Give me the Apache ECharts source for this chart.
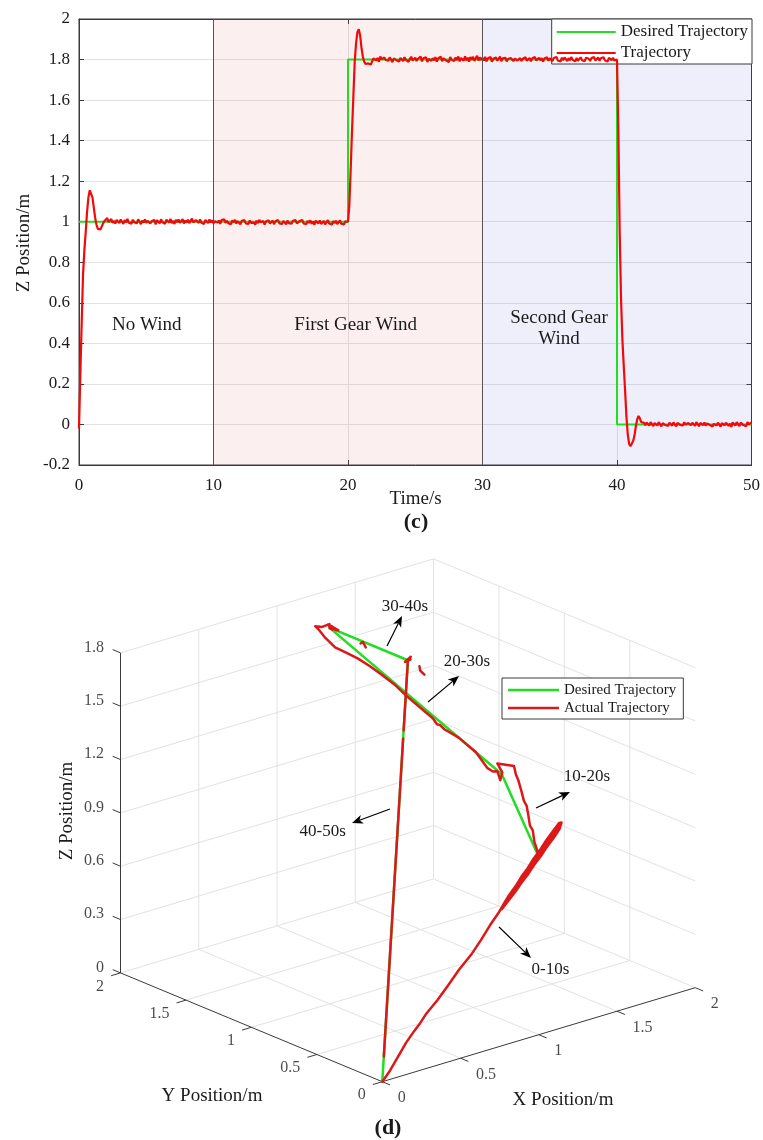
<!DOCTYPE html>
<html>
<head>
<meta charset="utf-8">
<script src="https://cdn.jsdelivr.net/npm/echarts@6/dist/echarts.min.js"></script>
<style>
html,body{margin:0;padding:0;background:#fff}
#main{width:763px;height:1140px}
</style>
</head>
<body>
<div id="main"></div>
<script>
// ===================== Panel (c): Z position vs time =====================
const SAMPLE_PERIOD = 0.1; // seconds between samples of the measured altitude

// measured altitude (m), one row per second
const zActual = [
  -0.020, 0.250, 0.500, 0.740, 0.860, 0.950, 1.050, 1.120, 1.155, 1.150,
  1.120, 1.070, 1.020, 0.985, 0.965, 0.958, 0.962, 0.978, 0.993, 1.004,
  1.012, 1.018, 0.998, 1.006, 1.013, 0.994, 1.004, 0.991, 1.009, 1.002,
  0.993, 1.011, 1.004, 0.989, 1.008, 0.997, 1.014, 0.995, 1.003, 0.990,
  1.010, 0.998, 1.007, 0.992, 1.012, 1.001, 0.988, 1.006, 0.996, 1.011,
  0.994, 1.005, 1.013, 0.991, 1.002, 0.996, 1.009, 0.987, 1.008, 1.000,
  0.992, 1.012, 0.997, 1.006, 0.990, 1.010, 1.003, 0.995, 1.014, 0.993,
  1.004, 0.989, 1.009, 0.998, 1.011, 0.994, 1.002, 1.013, 0.991, 1.006,
  0.996, 1.010, 0.993, 1.005, 1.015, 0.997, 0.990, 1.008, 1.001, 0.994,
  1.012, 0.995, 1.004, 0.989, 1.009, 1.002, 0.993, 1.011, 0.996, 1.007,
  0.992, 1.003, 1.010, 0.996, 1.006, 0.990, 1.008, 0.999, 1.012, 0.994,
  1.005, 0.993, 1.001, 0.988, 1.007, 0.997, 1.009, 0.991, 1.003, 0.995,
  0.987, 1.004, 0.996, 1.008, 0.992, 1.000, 0.989, 1.006, 0.994, 1.002,
  0.996, 0.985, 1.005, 0.993, 1.009, 0.997, 0.990, 1.003, 0.986, 1.001,
  0.994, 1.007, 0.991, 0.999, 1.006, 0.988, 1.002, 0.995, 1.008, 0.992,
  1.001, 0.989, 1.004, 0.996, 0.987, 1.006, 0.993, 1.000, 0.990, 1.005,
  0.997, 1.008, 0.992, 0.986, 1.003, 0.995, 1.009, 0.991, 0.999, 0.988,
  1.004, 0.994, 1.007, 0.990, 1.001, 0.985, 1.005, 0.996, 0.992, 1.006,
  0.989, 0.998, 1.004, 0.987, 0.995, 1.008, 0.991, 1.000, 0.986, 1.003,
  0.993, 1.005, 0.988, 0.997, 1.006, 0.990, 0.999, 0.987, 1.002, 0.996,
  1.000, 1.080, 1.260, 1.450, 1.620, 1.790, 1.880, 1.935, 1.950, 1.920,
  1.860, 1.815, 1.790, 1.778, 1.772, 1.781, 1.790, 1.775, 1.792, 1.805,
  1.812, 1.796, 1.808, 1.789, 1.815, 1.801, 1.793, 1.810, 1.798, 1.806,
  1.794, 1.811, 1.800, 1.787, 1.805, 1.813, 1.797, 1.804, 1.790, 1.808,
  1.801, 1.792, 1.812, 1.798, 1.807, 1.789, 1.803, 1.814, 1.795, 1.800,
  1.809, 1.793, 1.804, 1.797, 1.815, 1.791, 1.806, 1.799, 1.811, 1.788,
  1.803, 1.810, 1.794, 1.807, 1.796, 1.812, 1.790, 1.805, 1.800, 1.814,
  1.792, 1.806, 1.811, 1.795, 1.803, 1.788, 1.813, 1.799, 1.807, 1.793,
  1.810, 1.797, 1.815, 1.791, 1.808, 1.802, 1.794, 1.816, 1.796, 1.809,
  1.790, 1.812, 1.799, 1.814, 1.793, 1.807, 1.818, 1.795, 1.811, 1.798,
  1.808, 1.795, 1.813, 1.791, 1.806, 1.800, 1.812, 1.789, 1.804, 1.797,
  1.810, 1.794, 1.802, 1.815, 1.792, 1.806, 1.798, 1.809, 1.791, 1.803,
  1.796, 1.808, 1.799, 1.792, 1.805, 1.810, 1.795, 1.801, 1.807, 1.793,
  1.804, 1.797, 1.811, 1.794, 1.802, 1.808, 1.791, 1.806, 1.799, 1.812,
  1.795, 1.803, 1.809, 1.796, 1.807, 1.790, 1.805, 1.800, 1.811, 1.794,
  1.806, 1.798, 1.792, 1.808, 1.801, 1.813, 1.795, 1.804, 1.790, 1.809,
  1.797, 1.810, 1.802, 1.793, 1.807, 1.796, 1.812, 1.799, 1.805, 1.791,
  1.808, 1.794, 1.803, 1.811, 1.797, 1.806, 1.792, 1.809, 1.800, 1.804,
  1.793, 1.807, 1.798, 1.812, 1.795, 1.801, 1.810, 1.794, 1.806, 1.799,
  1.811, 1.796, 1.804, 1.790, 1.808, 1.802, 1.797, 1.809, 1.795, 1.803,
  1.800, 1.450, 0.950, 0.620, 0.420, 0.290, 0.170, 0.040, -0.050, -0.095,
  -0.107, -0.100, -0.082, -0.055, -0.010, 0.025, 0.042, 0.030, 0.012, 0.018,
  0.008, -0.004, 0.010, 0.001, -0.006, 0.012, 0.003, -0.008, 0.007, 0.000,
  -0.005, 0.011, 0.002, -0.009, 0.006, 0.013, -0.003, 0.005, -0.007, 0.009,
  0.001, -0.006, 0.010, 0.004, -0.010, 0.008, 0.015, -0.002, 0.006, -0.005,
  0.011, 0.000, -0.008, 0.007, 0.013, -0.004, 0.009, 0.002, -0.007, 0.012,
  0.004, -0.009, 0.008, 0.016, -0.003, 0.010, -0.006, 0.005, 0.014, -0.002,
  0.007, -0.010, 0.003, 0.012, -0.005, 0.009, 0.001, -0.011, 0.006, 0.013,
  -0.004, 0.008, 0.015, -0.007, 0.004, -0.012, 0.010, 0.002, -0.006, 0.011,
  0.003, -0.008, 0.009, 0.014, -0.003, 0.006, -0.009, 0.012, 0.000, 0.007,
  0.010
];

// commanded altitude (step changes)
const zDesiredTime = [0, 20, 20, 40, 40, 50];
const zDesired     = [1, 1, 1.8, 1.8, 0, 0];

// wind phases
const windStart = [10, 30];
const windEnd   = [30, 50];

// ===================== Panel (d): 3D trajectory =====================
// commanded hover points
const desiredX = [1, 1.6, 1, 1, 0];
const desiredY = [0, 1, 1.6, 1, 0];
const desiredZ = [1, 1, 1.8, 1.8, 0];

// measured 3D path (null = no sample recorded)
const actualX = [
  0.00, 0.05, 0.11, 0.17, 0.22, 0.25, 0.27, 0.30, 0.36, 0.42, 0.49, 0.56, 0.63, 0.69, 0.74,
  0.78, 0.82, 0.86, 0.90, 0.94, 0.98, 1.02, 1.06, 1.10, 1.14,
  1.145,
  1.12, 1.08, 1.04, 1.00, 0.96, 0.92, 0.88, 0.84, 0.80, 0.76,
  0.80, 0.85, 0.90, 0.95, 1.00, 1.05, 1.10, 1.13,
  1.06, 1.00,
  1.064, 1.131, 1.199, 1.262, 1.330, 1.397, 1.461, 1.525, 1.588, 1.652, 1.719, 1.73, 1.68, 1.62, 1.59, 1.58, 1.56, 1.54,
  1.51, 1.45, 1.40, 1.39, 1.37, 1.36, 1.33, 1.27, 1.23, 1.18, 1.14, 1.10, 1.06, 1.02, 0.99, 0.97, 0.96,
  0.98, 1.00, 1.01, 0.99, 1.04, 1.02, 0.99, 1.01, 1.00,
  null, 0.99, 0.98, 0.99,
  null, 1.00, 1.01, 0.99, 1.00, 1.00,
  null, 0.99, 0.97, 0.98,
  null, 1.00, 0.833, null, 0.814, 0.06
];
const actualY = [
  0.00, 0.00, 0.01, 0.02, 0.02, 0.01, 0.03, 0.02, 0.01, 0.00, 0.00, -0.01, 0.00, 0.00, 0.00,
  0.006, 0.011, 0.009, 0.014, 0.012, 0.016, 0.014, 0.017, 0.015, 0.012,
  0.000,
  -0.015, -0.017, -0.014, -0.016, -0.013, -0.015, -0.011, -0.012, -0.008, -0.004,
  0.003, -0.002, 0.002, -0.003, 0.002, -0.002, 0.003, 0.000,
  0.004, 0.000,
  0.097, 0.190, 0.284, 0.381, 0.474, 0.568, 0.665, 0.761, 0.858, 0.955, 1.049, 1.07, 1.13, 1.02, 1.00, 1.01, 1.02, 1.04,
  1.09, 1.15, 1.20, 1.22, 1.22, 1.24, 1.27, 1.33, 1.37, 1.42, 1.46, 1.50, 1.54, 1.58, 1.62, 1.64, 1.66,
  1.63, 1.60, 1.61, 1.59, 1.58, 1.60, 1.60, 1.59, 1.60,
  null, 1.35, 1.32, 1.31,
  null, 1.00, 0.99, 1.01, 0.98, 1.00,
  null, 0.90, 0.87, 0.85,
  null, 1.00, 0.833, null, 0.814, 0.06
];
const actualZ = [
  0.00, 0.05, 0.11, 0.17, 0.22, 0.26, 0.25, 0.30, 0.36, 0.43, 0.50, 0.57, 0.63, 0.70, 0.75,
  0.79, 0.83, 0.87, 0.91, 0.95, 0.99, 1.03, 1.07, 1.11, 1.15,
  1.155,
  1.13, 1.09, 1.05, 1.01, 0.97, 0.93, 0.89, 0.85, 0.81, 0.77,
  0.81, 0.86, 0.91, 0.96, 1.01, 1.06, 1.11, 1.14,
  1.07, 1.00,
  1.01, 0.99, 1.01, 0.99, 1.00, 1.01, 0.99, 1.00, 1.01, 1.00, 1.00, 1.00, 1.00, 1.00, 0.97, 1.02, 1.02, 1.04,
  1.12, 1.20, 1.245, 1.265, 1.275, 1.305, 1.345, 1.425, 1.485, 1.545, 1.59, 1.63, 1.66, 1.69, 1.74, 1.78, 1.80,
  1.80, 1.82, 1.79, 1.81, 1.78, 1.80, 1.82, 1.79, 1.80,
  null, 1.79, 1.81, 1.78,
  null, 1.80, 1.82, 1.79, 1.81, 1.80,
  null, 1.80, 1.79, 1.77,
  null, 1.80, 1.50, null, 1.465, 0.108
];

// axis ticks of the 3D box
const xTicks3d = [0, 0.5, 1, 1.5, 2];
const yTicks3d = [0, 0.5, 1, 1.5, 2];
const zTicks3d = [0, 0.3, 0.6, 0.9, 1.2, 1.5, 1.8];

// ===================== styling / layout =====================
const FONT = '"Liberation Serif", "Times New Roman", serif';
const GREEN = '#22dd22';
const RED_TOP = '#f20a0a';
const RED_3D = '#dc1818';
const TEXT = '#1a1a1a';
const AXIS = '#3a3a3a';
const GRIDC = '#e2e2e2';

// oblique view of the 3D box: screen offset (right, up) per metre along x, y, z
const VIEW = { ex: [156.5, 47], ey: [-130.9, 54.4], ez: [0, 177.8] };
const ORIGIN_PX = [382.3, 1081.7];       // where (0,0,0) lands on the page
const GRID3D = { left: 0, top: 540, width: 763, height: 600 };
const X_MAX = 2, Y_MAX = 2, Z_MAX = 1.8;

function project(x, y, z) {
  return [
    VIEW.ex[0] * x + VIEW.ey[0] * y + VIEW.ez[0] * z,
    VIEW.ex[1] * x + VIEW.ey[1] * y + VIEW.ez[1] * z
  ];
}
const GAP = ['-', '-'];
function pathData(xs, ys, zs) {
  return xs.map((x, i) => (x === null ? GAP : project(x, ys[i], zs[i])));
}
function segData(segs) {
  const out = [];
  segs.forEach((s, i) => {
    if (i) out.push(GAP);
    out.push(project(...s[0]), project(...s[1]));
  });
  return out;
}

// grid lines on floor and the two back walls
const gridSegs = [];
xTicks3d.filter(v => v > 0).forEach(x => gridSegs.push([[x, 0, 0], [x, Y_MAX, 0]]));
yTicks3d.filter(v => v > 0).forEach(y => gridSegs.push([[0, y, 0], [X_MAX, y, 0]]));
xTicks3d.filter(v => v > 0).forEach(x => gridSegs.push([[x, Y_MAX, 0], [x, Y_MAX, Z_MAX]]));
zTicks3d.filter(v => v > 0).forEach(z => gridSegs.push([[0, Y_MAX, z], [X_MAX, Y_MAX, z]]));
yTicks3d.filter(v => v > 0 && v < Y_MAX).forEach(y => gridSegs.push([[X_MAX, y, 0], [X_MAX, y, Z_MAX]]));
zTicks3d.filter(v => v > 0).forEach(z => gridSegs.push([[X_MAX, 0, z], [X_MAX, Y_MAX, z]]));

// axis lines and tick marks
const axisSegs = [
  [[0, Y_MAX, 0], [0, Y_MAX, Z_MAX]],
  [[0, 0, 0], [0, Y_MAX, 0]],
  [[0, 0, 0], [X_MAX, 0, 0]]
];
const TICK = 0.06;
zTicks3d.forEach(z => axisSegs.push([[0, Y_MAX, z], [0, Y_MAX + TICK, z]]));
yTicks3d.forEach(y => axisSegs.push([[0, y, 0], [-TICK, y, 0]]));
xTicks3d.forEach(x => axisSegs.push([[x, 0, 0], [x, -TICK, 0]]));

function tickLabels(points, offset, align) {
  return {
    type: 'scatter', xAxisIndex: 2, yAxisIndex: 2, silent: true,
    symbol: 'circle', symbolSize: 1, itemStyle: { color: 'rgba(0,0,0,0)' },
    data: points.map(p => [...project(p[0], p[1], p[2]), p[3]]),
    label: {
      show: true, position: offset, align: align, verticalAlign: 'middle',
      formatter: p => p.value[2], fontFamily: FONT, fontSize: 16, color: TEXT
    }
  };
}

// ===================== annotations =====================
function txt(x, y, text, size, extra) {
  return Object.assign({
    type: 'text', x: x, y: y, z: 100,
    style: { text: text, align: 'center', verticalAlign: 'middle', fontFamily: FONT, fontSize: size, fill: TEXT }
  }, extra || {});
}
function arrow(x1, y1, x2, y2) {
  const dx = x2 - x1, dy = y2 - y1, L = Math.hypot(dx, dy);
  const ux = dx / L, uy = dy / L, nx = -uy, ny = ux;
  const hl = 11, hw = 4.5, notch = 3;
  const bx = x2 - ux * hl, by = y2 - uy * hl;
  const mx = x2 - ux * (hl - notch), my = y2 - uy * (hl - notch);
  return [
    { type: 'line', z: 100, shape: { x1: x1, y1: y1, x2: mx, y2: my }, style: { stroke: '#000', lineWidth: 1.2 } },
    { type: 'polygon', z: 100, shape: { points: [[x2, y2], [bx + nx * hw, by + ny * hw], [mx, my], [bx - nx * hw, by - ny * hw]] }, style: { fill: '#000' } }
  ];
}

const panelC = txt(416, 522, '(c)', 22);
panelC.style.fontWeight = 'bold';
const panelD = txt(388, 1128, '(d)', 22);
panelD.style.fontWeight = 'bold';
const gearTwo = txt(559, 328.5, 'Second Gear\nWind', 19);
gearTwo.style.lineHeight = 21.6;

const graphics = [
  txt(146.7, 325, 'No Wind', 19),
  txt(355.7, 325, 'First Gear Wind', 19),
  gearTwo,
  txt(415.5, 499, 'Time/s', 19),
  txt(24.5, 243, 'Z Position/m', 19, { rotation: Math.PI / 2 }),
  panelC,
  panelD,
  txt(212, 1096, 'Y Position/m', 19),
  txt(563, 1100, 'X Position/m', 19),
  txt(67, 811, 'Z Position/m', 19, { rotation: Math.PI / 2 }),
  txt(405, 607, '30-40s', 17),
  txt(467, 662, '20-30s', 17),
  txt(587, 777, '10-20s', 17),
  txt(322.7, 832, '40-50s', 17),
  txt(550.5, 970, '0-10s', 17),
  ...arrow(387, 646, 402, 616),
  ...arrow(428, 702, 459, 676),
  ...arrow(536, 808, 570, 792),
  ...arrow(390, 809, 352, 823),
  ...arrow(499, 927, 531, 958)
];

// ===================== chart =====================
const chart = echarts.init(document.getElementById('main'), null, { renderer: 'canvas' });

const axisCommon = {
  axisLine: { show: true, onZero: false, lineStyle: { color: AXIS, width: 1 } },
  axisTick: { show: true, inside: true, length: 5, lineStyle: { color: AXIS } },
  axisLabel: { fontFamily: FONT, fontSize: 17, color: TEXT }
};

const option = {
  animation: false,
  backgroundColor: '#fff',
  grid: [
    { left: 79, top: 19, width: 673, height: 446, show: true, borderColor: AXIS, borderWidth: 1, backgroundColor: 'transparent' },
    { left: GRID3D.left, top: GRID3D.top, width: GRID3D.width, height: GRID3D.height, show: false }
  ],
  xAxis: [
    Object.assign({}, axisCommon, { gridIndex: 0, type: 'value', min: 0, max: 50, interval: 10,
      axisLabel: Object.assign({}, axisCommon.axisLabel, { margin: 12 }),
      splitLine: { show: true, lineStyle: { color: GRIDC, width: 1 } } }),
    Object.assign({}, axisCommon, { gridIndex: 0, type: 'value', position: 'top', min: 0, max: 50, interval: 10,
      axisLabel: { show: false }, splitLine: { show: false } }),
    { gridIndex: 1, type: 'value', show: false,
      min: GRID3D.left - ORIGIN_PX[0], max: GRID3D.left + GRID3D.width - ORIGIN_PX[0] }
  ],
  yAxis: [
    Object.assign({}, axisCommon, { gridIndex: 0, type: 'value', min: -0.2, max: 2, interval: 0.2,
      axisLabel: Object.assign({}, axisCommon.axisLabel, { margin: 9 }),
      splitLine: { show: true, lineStyle: { color: GRIDC, width: 1 } } }),
    Object.assign({}, axisCommon, { gridIndex: 0, type: 'value', position: 'right', min: -0.2, max: 2, interval: 0.2,
      axisLabel: { show: false }, splitLine: { show: false } }),
    { gridIndex: 1, type: 'value', show: false,
      min: ORIGIN_PX[1] - (GRID3D.top + GRID3D.height), max: ORIGIN_PX[1] - GRID3D.top }
  ],
  legend: [
    {
      data: ['Desired Trajectory', 'Trajectory'],
      right: 11, top: 19, orient: 'vertical', selectedMode: false,
      backgroundColor: '#fff', borderColor: AXIS, borderWidth: 1, borderRadius: 0,
      padding: [3, 4, 1, 5], itemGap: 1, itemWidth: 59, itemHeight: 2, icon: 'rect',
      textStyle: { fontFamily: FONT, fontSize: 17, color: TEXT, lineHeight: 20 }
    },
    {
      data: ['Desired Trajectory', 'Actual Trajectory'],
      left: 502, top: 678, orient: 'vertical', selectedMode: false,
      backgroundColor: '#fff', borderColor: AXIS, borderWidth: 1, borderRadius: 0,
      padding: [3, 7, 2, 6], itemGap: 0, itemWidth: 51, itemHeight: 2.5, icon: 'rect',
      textStyle: { fontFamily: FONT, fontSize: 15, color: TEXT, lineHeight: 18 }
    }
  ],
  graphic: graphics,
  series: [
    {
      name: 'Desired Trajectory', type: 'line', xAxisIndex: 0, yAxisIndex: 0,
      data: zDesiredTime.map((t, i) => [t, zDesired[i]]),
      showSymbol: false, symbol: 'none', z: 3,
      lineStyle: { color: GREEN, width: 2 }, itemStyle: { color: GREEN },
      markArea: {
        silent: true,
        data: [
          [{ xAxis: windStart[0], itemStyle: { color: 'rgba(230,100,100,0.10)' } }, { xAxis: windEnd[0] }],
          [{ xAxis: windStart[1], itemStyle: { color: 'rgba(100,100,230,0.10)' } }, { xAxis: windEnd[1] }]
        ]
      },
      markLine: {
        silent: true, symbol: 'none', label: { show: false },
        lineStyle: { color: '#555', width: 1, type: 'solid' },
        data: windStart.map(t => ({ xAxis: t }))
      }
    },
    {
      name: 'Trajectory', type: 'line', xAxisIndex: 0, yAxisIndex: 0,
      data: zActual.map((v, i) => [+(i * SAMPLE_PERIOD).toFixed(1), v]),
      showSymbol: false, symbol: 'none', z: 4,
      lineStyle: { color: RED_TOP, width: 2.2 }, itemStyle: { color: RED_TOP }
    },
    {
      name: 'box-grid', type: 'line', xAxisIndex: 2, yAxisIndex: 2, silent: true,
      data: segData(gridSegs), symbol: 'none', connectNulls: false, z: 1,
      lineStyle: { color: GRIDC, width: 1 }
    },
    {
      name: 'box-axes', type: 'line', xAxisIndex: 2, yAxisIndex: 2, silent: true,
      data: segData(axisSegs), symbol: 'none', connectNulls: false, z: 2,
      lineStyle: { color: AXIS, width: 1 }
    },
    {
      name: 'Desired Trajectory', type: 'line', xAxisIndex: 2, yAxisIndex: 2,
      data: pathData(desiredX, desiredY, desiredZ), symbol: 'none', z: 3,
      lineStyle: { color: GREEN, width: 2.5 }, itemStyle: { color: GREEN }
    },
    {
      name: 'Actual Trajectory', type: 'line', xAxisIndex: 2, yAxisIndex: 2,
      data: pathData(actualX, actualY, actualZ), symbol: 'none', connectNulls: false, z: 4,
      lineStyle: { color: RED_3D, width: 2.5, join: 'round', cap: 'round' }, itemStyle: { color: RED_3D }
    },
    tickLabels(zTicks3d.map(z => [0, Y_MAX, z, String(z)]), [-16, -5], 'right'),
    tickLabels(yTicks3d.map(y => [0, y, 0, String(y)]), [-16, 14], 'right'),
    tickLabels(xTicks3d.map(x => [x, 0, 0, String(x)]), [16, 17], 'left')
  ]
};

chart.setOption(option);
</script>
</body>
</html>
